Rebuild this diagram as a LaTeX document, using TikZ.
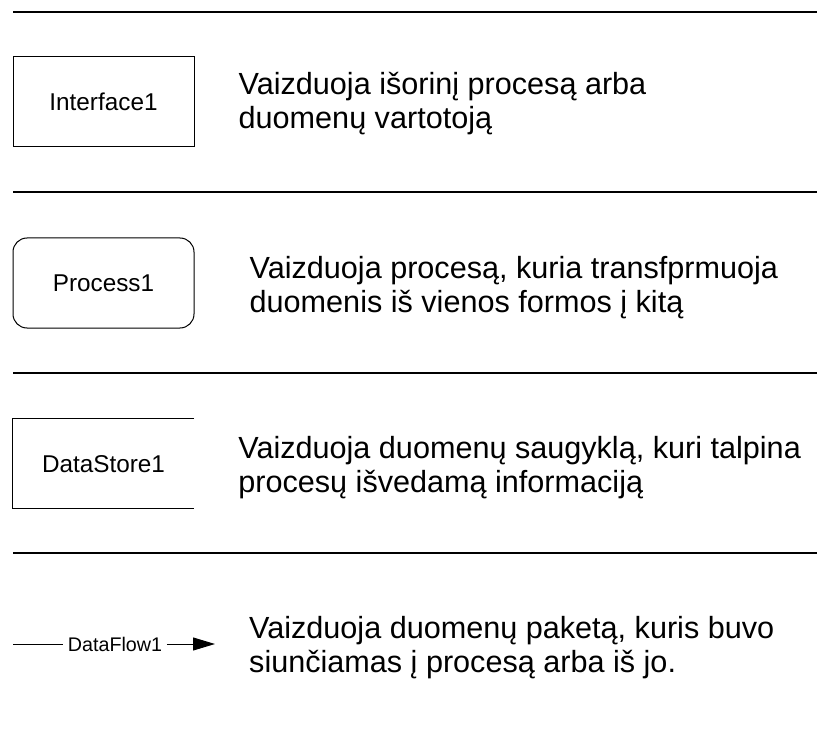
\documentclass[tikz,border=0pt]{standalone}
\usepackage{fontspec}
\setmainfont{Liberation Sans}
\usetikzlibrary{positioning}
\usetikzlibrary{arrows.meta}
\tikzstyle{symbol} = [rectangle, minimum width=181pt, minimum height=90pt, inner sep=0pt,
                font={\fontsize{24.3}{28}\selectfont}]
\tikzstyle{entity} = [symbol, draw, line width=1pt]
\tikzstyle{process} = [entity, rounded corners=14pt]
\tikzstyle{store} = [symbol]
\tikzstyle{desc} = [anchor=west, align=left, inner sep=0pt,
                font={\fontsize{30.6}{34}\selectfont}]
\tikzstyle{rule} = [draw, line width=1.7pt]
\tikzstyle{flow} = [draw, line width=1pt]

\begin{document}
\begin{tikzpicture}[x=1pt, y=-1pt]
        \useasboundingbox (0,0) rectangle (817,730);
        \foreach \y in {12,192,373,553}
            \path[rule] (13,\y) -- (817,\y);
        \node[entity] (interface) at (103.5,102) {Interface1};
        \node[process, below=90pt of interface] (process) {Process1};
        \node[store, below=90pt of process] (datastore) {DataStore1};
        \draw[line width=1pt] (datastore.north east) -- (datastore.north west)
            -- (datastore.south west) -- (datastore.south east);
        \node[font={\fontsize{19.7}{22}\selectfont}, inner xsep=4.5pt, inner ysep=0pt] (flowlabel) at (115,644) {DataFlow1};
        \coordinate (flowin) at (13,644);
        \coordinate (flowout) at (215,644);
        \path[flow] (flowin) -- (flowlabel);
        \path[flow, -{Triangle[length=22pt,width=13pt]}] (flowlabel) -- (flowout);
        \node[desc, right=44pt of interface, yshift=-2pt] (interfacetext) {Vaizduoja išorinį procesą arba\\duomenų vartotoją};
        \node[desc, right=55pt of process, yshift=-4.5pt] (processtext) {Vaizduoja procesą, kuria transfprmuoja\\duomenis iš vienos formos į kitą};
        \node[desc, right=44pt of datastore, yshift=-4pt] (datastoretext) {Vaizduoja duomenų saugyklą, kuri talpina\\procesų išvedamą informaciją};
        \node[desc, anchor=west] (flowtext) at (249,648) {Vaizduoja duomenų paketą, kuris buvo\\siunčiamas į procesą arba iš jo.};
        \end{tikzpicture}
\end{document}
